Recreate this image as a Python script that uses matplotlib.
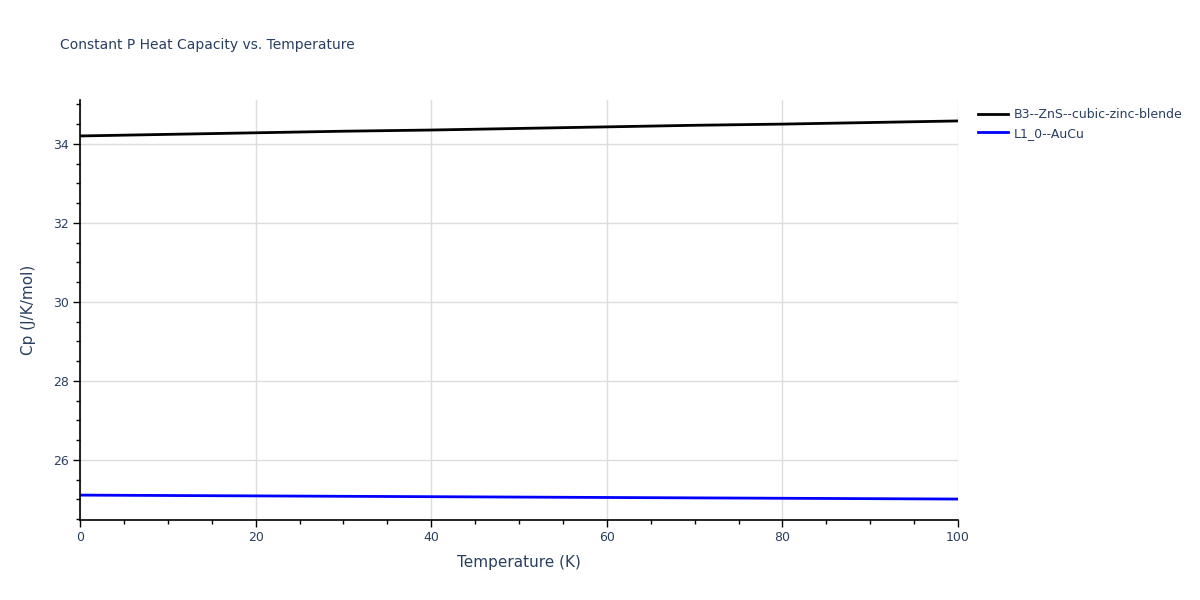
import numpy as np
import matplotlib.pyplot as plt
from matplotlib.ticker import MultipleLocator

temperature = [0, 10, 20, 30, 40, 50, 60, 70, 80, 90, 100]
cp_zns = [34.20, 34.24, 34.28, 34.32, 34.35, 34.39, 34.43, 34.47, 34.50, 34.54, 34.58]
cp_aucu = [25.11, 25.10, 25.09, 25.08, 25.07, 25.06, 25.05, 25.04, 25.03, 25.02, 25.01]

text_col = '#2a3f5f'
grid_col = '#dcdcdc'

fig = plt.figure(figsize=(12, 6), dpi=100)
ax = fig.add_axes([80/1200, 1 - 520/600, 878/1200, 420/600])

ax.plot(temperature, cp_zns, color='black', lw=2, label='B3--ZnS--cubic-zinc-blende')
ax.plot(temperature, cp_aucu, color='blue', lw=2, label='L1_0--AuCu')

ax.set_xlim(0, 100)
ax.set_ylim(24.48, 35.11)
ax.xaxis.set_major_locator(MultipleLocator(20))
ax.xaxis.set_minor_locator(MultipleLocator(5))
ax.yaxis.set_major_locator(MultipleLocator(2))
ax.yaxis.set_minor_locator(MultipleLocator(0.5))
ax.grid(True, which='major', color=grid_col, lw=1)
ax.set_axisbelow(True)

for s in ['top', 'right']:
    ax.spines[s].set_visible(False)
for s in ['left', 'bottom']:
    ax.spines[s].set_color('black')
    ax.spines[s].set_linewidth(1.2)

ax.tick_params(which='major', direction='out', length=5, width=1, color='black',
               labelsize=9, labelcolor=text_col, pad=3)
ax.tick_params(which='minor', direction='out', length=3, width=1, color='black')

ax.set_xlabel('Temperature (K)', fontsize=11, color=text_col, labelpad=8)
ax.set_ylabel('Cp (J/K/mol)', fontsize=11, color=text_col, labelpad=12)

fig.text(60/1200, 1 - 45/600, 'Constant P Heat Capacity vs. Temperature',
         fontsize=10, color=text_col, va='center', ha='left')

leg = ax.legend(loc='upper left', bbox_to_anchor=(978/1200, 1 - 108/600),
                bbox_transform=fig.transFigure, frameon=False, fontsize=9,
                handlelength=2.4, handletextpad=0.45, labelspacing=0.45, borderaxespad=0,
                borderpad=0)
for t in leg.get_texts():
    t.set_color(text_col)

fig.savefig('out.png', dpi=100)
